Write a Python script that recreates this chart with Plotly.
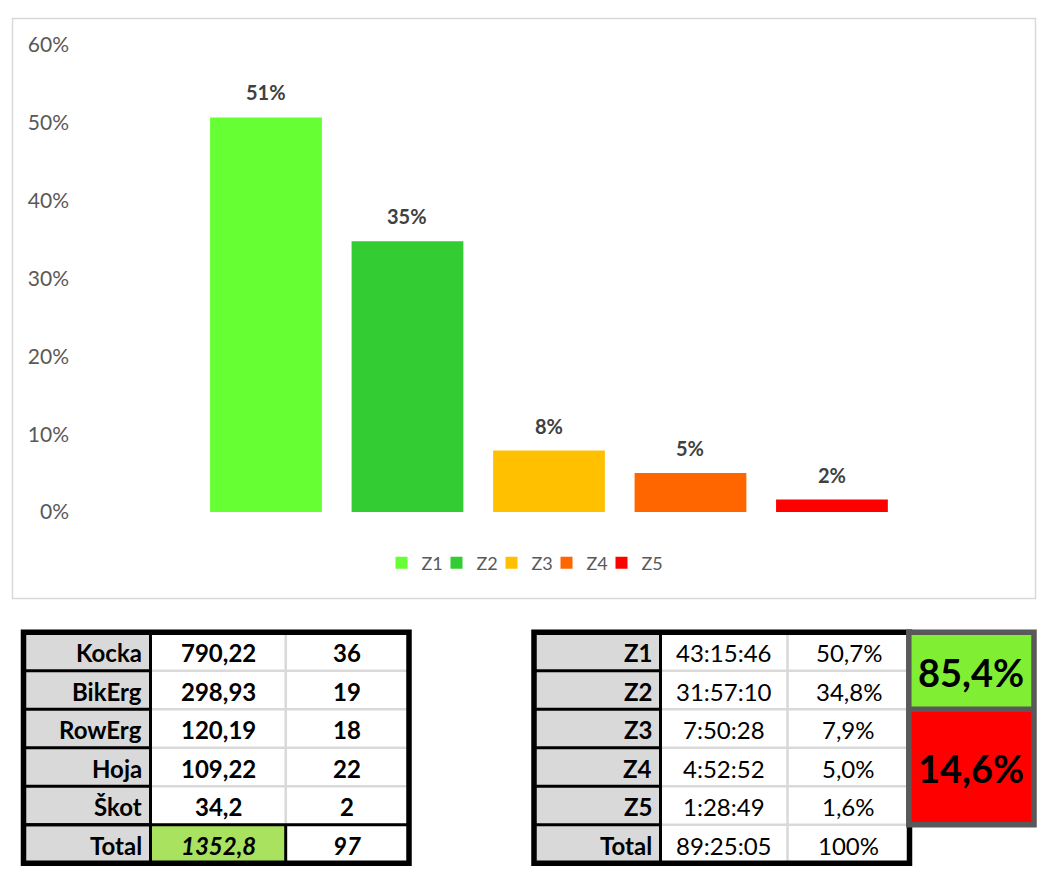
import plotly.graph_objects as go

# --- chart data ---
zones = ["Z1", "Z2", "Z3", "Z4", "Z5"]
zone_share = [0.507, 0.348, 0.079, 0.050, 0.016]
zone_colors = ["#66FF33", "#33CC33", "#FFC000", "#FF6600", "#FF0000"]

# --- left table: km and sessions per activity ---
activities = ["Kocka", "BikErg", "RowErg", "Hoja", "Škot"]
activity_km = [790.22, 298.93, 120.19, 109.22, 34.2]
activity_sessions = [36, 19, 18, 22, 2]

# --- right table: time per zone ---
zone_time = ["43:15:46", "31:57:10", "7:50:28", "4:52:52", "1:28:49"]
total_time = "89:25:05"
summary_share = [0.854, 0.146]
summary_rows = [2, 3]
summary_colors = ["#80EE33", "#FF0000"]

# --- layout constants (screen pixels; the page body adds an 8px margin) ---
W, H = 1059, 880
OFF = 8
ROW_TOP, ROW_H = 632.3, 38.5
LEFT_COLS = [23.5, 150.5, 285.7, 409.0]
RIGHT_COLS = [534.0, 660.5, 787.5, 909.5]
SUM_COLS = [908.8, 1034.0]
GREY = "#D9D9D9"
FONT = "Lato"


def px_x(x):
    return (x - OFF) / W


def px_y(y):
    return 1 - (y - OFF) / H


def dec(v, fmt="g"):
    return format(v, fmt).replace(".", ",")


def pct(v, fmt=".1%"):
    return format(v, fmt).replace(".", ",")


shapes = []
annotations = []


def rect(x0, y0, x1, y1, fill=None, line=None, width=0):
    shapes.append(dict(type="rect", xref="x2", yref="y2", x0=x0, y0=y0, x1=x1, y1=y1,
                       fillcolor=fill or "rgba(0,0,0,0)",
                       line=dict(color=line or "rgba(0,0,0,0)", width=width)))


def seg(x0, y0, x1, y1, color, width):
    shapes.append(dict(type="line", xref="x2", yref="y2", x0=x0, y0=y0, x1=x1, y1=y1,
                       line=dict(color=color, width=width)))


def text(x, y, s, anchor="center", size=24, weight="normal", style="normal", color="black"):
    annotations.append(dict(xref="x2", yref="y2", x=x, y=y, text=s, showarrow=False,
                            xanchor=anchor, yanchor="middle", yshift=-1,
                            font=dict(family=FONT, size=size, color=color,
                                      weight=weight, style=style)))


def row_y(r):
    return ROW_TOP + r * ROW_H


def draw_table(cols, labels, col1, col2, total, total_fill, total_black, value_weight, total_style):
    n = len(labels) + 1
    bottom = row_y(n)
    # cell fills
    for r in range(n):
        rect(cols[0], row_y(r), cols[1], row_y(r + 1), fill=GREY)
        rect(cols[1], row_y(r), cols[2], row_y(r + 1),
             fill=total_fill if r == n - 1 else "white")
        rect(cols[2], row_y(r), cols[3], row_y(r + 1), fill="white")
    # light grid inside the value columns
    for r in range(1, n):
        seg(cols[1], row_y(r), cols[3], row_y(r), GREY, 2.5)
    seg(cols[2], row_y(0), cols[2], bottom, GREY, 2.5)
    # black grid
    for r in range(1, n):
        seg(cols[0], row_y(r), cols[1], row_y(r), "black", 3)
    seg(cols[1], row_y(0), cols[1], bottom, "black", 3)
    if total_black:
        seg(cols[0], row_y(n - 1), cols[3], row_y(n - 1), "black", 3)
        seg(cols[2], row_y(n - 1), cols[2], bottom, "black", 3)
    rect(cols[0], row_y(0), cols[3], bottom, line="black", width=5.5)

    # texts
    mid1 = (cols[1] + cols[2]) / 2
    mid2 = (cols[2] + cols[3]) / 2
    for r, lab in enumerate(labels + ["Total"]):
        yc = (row_y(r) + row_y(r + 1)) / 2
        text(cols[1] - 7, yc, lab, anchor="right", weight="bold")
        if r < n - 1:
            text(mid1, yc, col1[r], weight=value_weight)
            text(mid2, yc, col2[r], weight=value_weight)
        else:
            text(mid1, yc, total[0], weight=value_weight, style=total_style)
            text(mid2, yc, total[1], weight=value_weight, style=total_style)


fig = go.Figure()

for i, (z, s, c) in enumerate(zip(zones, zone_share, zone_colors)):
    fig.add_trace(go.Bar(x=[z], y=[s], name=z, marker=dict(color=c, line=dict(width=0)),
                         width=0.79, hoverinfo="skip",
                         legendwidth=26 if i == len(zones) - 1 else 10))
    fig.add_annotation(x=z, y=s, xref="x", yref="y", text=format(s, ".0%"),
                       showarrow=False, yanchor="bottom", yshift=11,
                       font=dict(family=FONT, size=20, color="#404040", weight="bold"))

# chart frame
rect(12.5, 18.5, 1035.5, 598.5, line=GREY, width=1.5)

draw_table(LEFT_COLS, activities,
           [dec(v) for v in activity_km], [str(v) for v in activity_sessions],
           (dec(sum(activity_km), ".1f"), str(sum(activity_sessions))),
           "#A9E25F", True, "bold", "italic")

draw_table(RIGHT_COLS, zones,
           zone_time, [pct(v) for v in zone_share],
           (total_time, format(sum(summary_share), ".0%")),
           "white", False, "normal", "normal")

# summary box (Z1+Z2 vs Z3..Z5)
r0 = 0
for share, span, color in zip(summary_share, summary_rows, summary_colors):
    y0, y1 = row_y(r0), row_y(r0 + span)
    rect(SUM_COLS[0], y0, SUM_COLS[1], y1, fill=color)
    text((SUM_COLS[0] + SUM_COLS[1]) / 2, (y0 + y1) / 2, pct(share), size=38, weight="bold")
    r0 += span
seg(SUM_COLS[0], row_y(summary_rows[0]), SUM_COLS[1], row_y(summary_rows[0]), "#595959", 5.5)
rect(SUM_COLS[0], row_y(0), SUM_COLS[1], row_y(r0), line="#595959", width=5.5)

for a in annotations:
    fig.add_annotation(**a)

fig.update_layout(
    width=W, height=H,
    margin=dict(l=0, r=0, t=0, b=0, autoexpand=False),
    paper_bgcolor="white", plot_bgcolor="rgba(0,0,0,0)",
    font=dict(family=FONT),
    barmode="overlay",
    showlegend=True,
    legend=dict(orientation="h", x=px_x(527), xanchor="center", y=px_y(563), yanchor="middle",
                font=dict(family=FONT, size=18, color="#595959"),
                entrywidthmode="pixels", traceorder="normal"),
    xaxis=dict(domain=[px_x(74), px_x(1020)], type="category", categoryarray=zones,
               range=[-1.357, 5.329], showticklabels=False, showgrid=False,
               zeroline=False, showline=False, fixedrange=True),
    yaxis=dict(domain=[px_y(512), px_y(45)], range=[0, 0.6], dtick=0.1,
               tickformat=".0%", showgrid=False, zeroline=False, showline=False,
               ticks="", ticklabelstandoff=4,
               tickfont=dict(family=FONT, size=21, color="#595959"), fixedrange=True),
    xaxis2=dict(domain=[0, 1], range=[OFF, W + OFF], anchor="y2", visible=False, fixedrange=True),
    yaxis2=dict(domain=[0, 1], range=[H + OFF, OFF], anchor="x2", visible=False, fixedrange=True),
    shapes=shapes,
)

fig.write_html("out.html")
